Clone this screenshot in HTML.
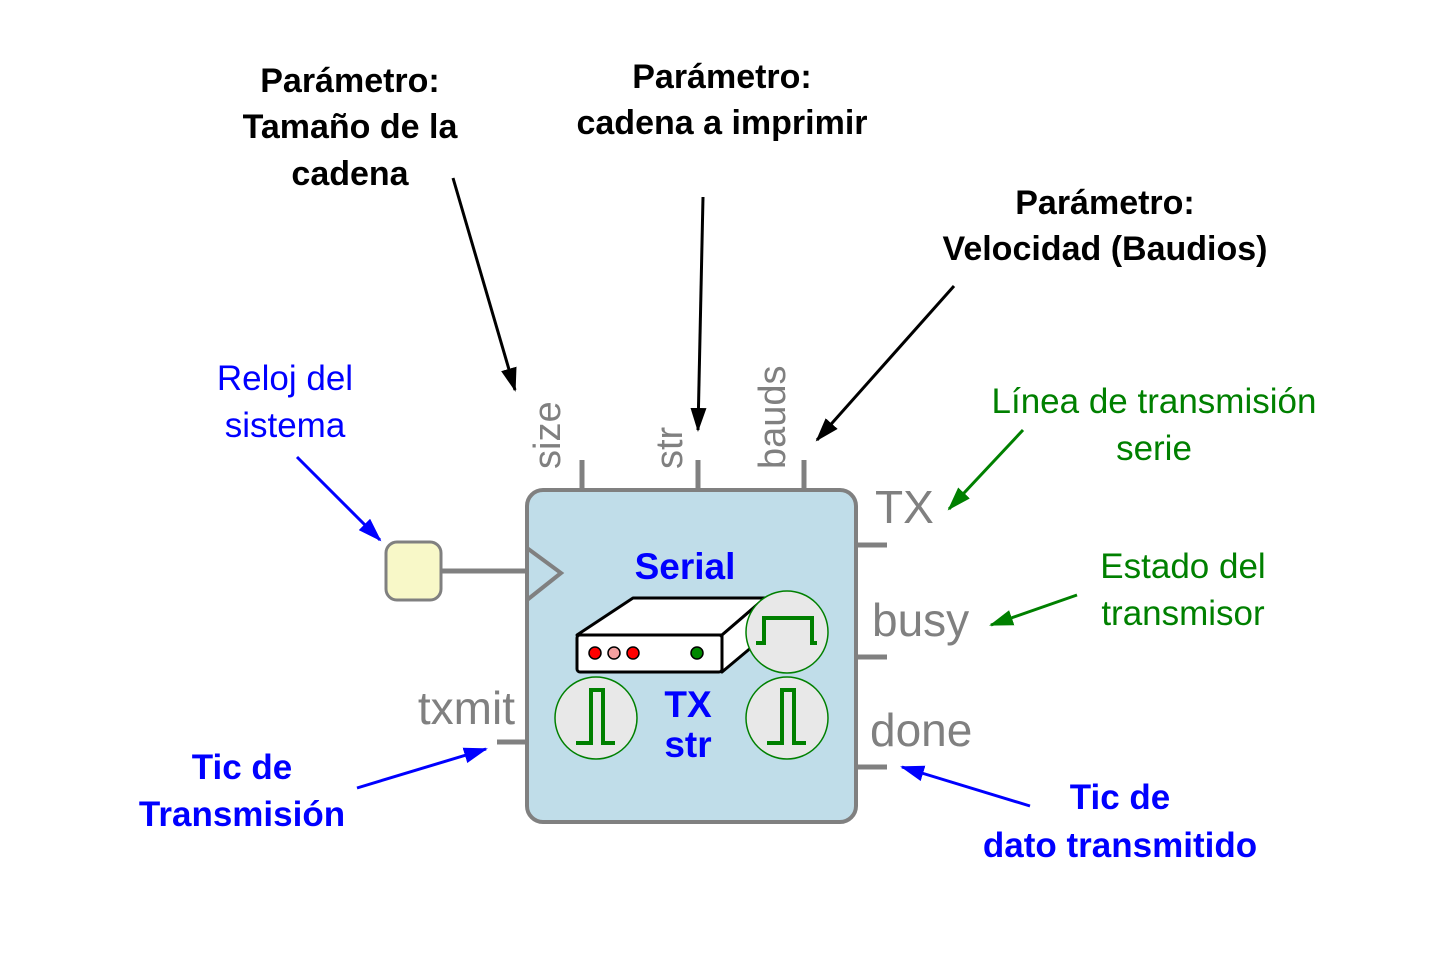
<!DOCTYPE html>
<html><head><meta charset="utf-8"><style>html,body{margin:0;padding:0;background:#fff}</style></head>
<body>
<svg width="1441" height="972" viewBox="0 0 1441 972" xmlns="http://www.w3.org/2000/svg" font-family="'Liberation Sans', 'DejaVu Sans', sans-serif">
<defs>
<marker id="ak" markerWidth="24" markerHeight="16" refX="22" refY="8" orient="auto" markerUnits="userSpaceOnUse" viewBox="0 0 24 16"><path d="M0,0 L24,8 L0,16 z" fill="#000"/></marker>
<marker id="ab" markerWidth="24" markerHeight="16" refX="22" refY="8" orient="auto" markerUnits="userSpaceOnUse" viewBox="0 0 24 16"><path d="M0,0 L24,8 L0,16 z" fill="#00f"/></marker>
<marker id="ag" markerWidth="24" markerHeight="16" refX="22" refY="8" orient="auto" markerUnits="userSpaceOnUse" viewBox="0 0 24 16"><path d="M0,0 L24,8 L0,16 z" fill="#008000"/></marker>
</defs>
<style>
.bk{font-size:34px;font-weight:bold;fill:#000;text-anchor:middle}
.bl{font-size:35px;fill:#00f;text-anchor:middle}
.blb{font-size:35px;font-weight:bold;fill:#00f;text-anchor:middle}
.gr{font-size:35px;fill:#008000;text-anchor:middle}
.gy{font-size:46px;fill:#808080}
.gs{font-size:38px;fill:#808080}
</style>
<text class="bk" x="350" y="92">Parámetro:</text>
<text class="bk" x="350" y="138">Tamaño de la</text>
<text class="bk" x="350" y="185">cadena</text>
<text class="bk" x="722" y="88">Parámetro:</text>
<text class="bk" x="722" y="134">cadena a imprimir</text>
<text class="bk" x="1105" y="214">Parámetro:</text>
<text class="bk" x="1105" y="260">Velocidad (Baudios)</text>
<g stroke="#000" stroke-width="3" fill="none">
<line x1="453" y1="178" x2="515" y2="390" marker-end="url(#ak)"/>
<line x1="703" y1="197" x2="698" y2="430" marker-end="url(#ak)"/>
<line x1="954" y1="286" x2="817" y2="440" marker-end="url(#ak)"/>
</g>
<text class="bl" x="285" y="390">Reloj del</text>
<text class="bl" x="285" y="437">sistema</text>
<line x1="297" y1="457" x2="380" y2="540" stroke="#00f" stroke-width="3" marker-end="url(#ab)"/>
<text class="blb" x="242" y="779">Tic de</text>
<text class="blb" x="242" y="826">Transmisión</text>
<line x1="357" y1="788" x2="486" y2="749" stroke="#00f" stroke-width="3" marker-end="url(#ab)"/>
<text class="blb" x="1120" y="809">Tic de</text>
<text class="blb" x="1120" y="857">dato transmitido</text>
<line x1="1030" y1="806" x2="902" y2="767" stroke="#00f" stroke-width="3" marker-end="url(#ab)"/>
<text class="gr" x="1154" y="413">Línea de transmisión</text>
<text class="gr" x="1154" y="460">serie</text>
<line x1="1023" y1="430" x2="949" y2="509" stroke="#008000" stroke-width="3" marker-end="url(#ag)"/>
<text class="gr" x="1183" y="578">Estado del</text>
<text class="gr" x="1183" y="625">transmisor</text>
<line x1="1077" y1="595" x2="991" y2="625" stroke="#008000" stroke-width="3" marker-end="url(#ag)"/>
<g stroke="#808080" stroke-width="5">
<line x1="582" y1="460" x2="582" y2="492"/>
<line x1="698" y1="460" x2="698" y2="492"/>
<line x1="804" y1="460" x2="804" y2="492"/>
<line x1="855" y1="545" x2="887" y2="545"/>
<line x1="855" y1="657" x2="887" y2="657"/>
<line x1="855" y1="767" x2="887" y2="767"/>
<line x1="497" y1="742" x2="529" y2="742"/>
<line x1="441" y1="571" x2="529" y2="571"/>
</g>
<text class="gs" transform="translate(560,469) rotate(-90)">size</text>
<text class="gs" transform="translate(682,469) rotate(-90)">str</text>
<text class="gs" transform="translate(785,469) rotate(-90)">bauds</text>
<text class="gy" x="875" y="523">TX</text>
<text class="gy" x="872" y="636">busy</text>
<text class="gy" x="870" y="746">done</text>
<text class="gy" x="515" y="724" text-anchor="end">txmit</text>
<rect x="386" y="542" width="55" height="58" rx="11" fill="#f8f8c8" stroke="#808080" stroke-width="3"/>
<rect x="527" y="490" width="329" height="332" rx="16" fill="#c0dde9" stroke="#808080" stroke-width="4"/>
<polyline points="527,548 561,573 527,600" fill="none" stroke="#808080" stroke-width="4"/>
<text x="685" y="579" font-size="37" font-weight="bold" fill="#00f" text-anchor="middle">Serial</text>
<g stroke="#000" stroke-width="3" stroke-linejoin="round">
<path d="M577,635 L633,598 L765,598 L722,635 Z" fill="#fff"/>
<path d="M722,635 L765,598 L765,636 L722,672 Z" fill="#fff"/>
<rect x="577" y="635" width="145" height="37" rx="3" fill="#fff"/>
</g>
<g stroke="#000" stroke-width="1.5">
<circle cx="595" cy="653" r="6" fill="#f00"/>
<circle cx="614" cy="653" r="6" fill="#f4a0a0"/>
<circle cx="633" cy="653" r="6" fill="#f00"/>
<circle cx="697" cy="653" r="6" fill="#080"/>
</g>
<g fill="#e8e8e8" stroke="#008000" stroke-width="1.5">
<circle cx="787" cy="632" r="41"/>
<circle cx="596" cy="718" r="41"/>
<circle cx="787" cy="718" r="41"/>
</g>
<g fill="none" stroke="#008000" stroke-width="4">
<polyline points="756,643 764,643 764,618 812,618 812,643 817,643"/>
<polyline points="576,743 591,743 591,690 603,690 603,743 615,743"/>
<polyline points="767,743 782,743 782,690 794,690 794,743 806,743"/>
</g>
<text x="688" y="717" font-size="37" font-weight="bold" fill="#00f" text-anchor="middle">TX</text>
<text x="688" y="757" font-size="37" font-weight="bold" fill="#00f" text-anchor="middle">str</text>
</svg>
</body></html>
